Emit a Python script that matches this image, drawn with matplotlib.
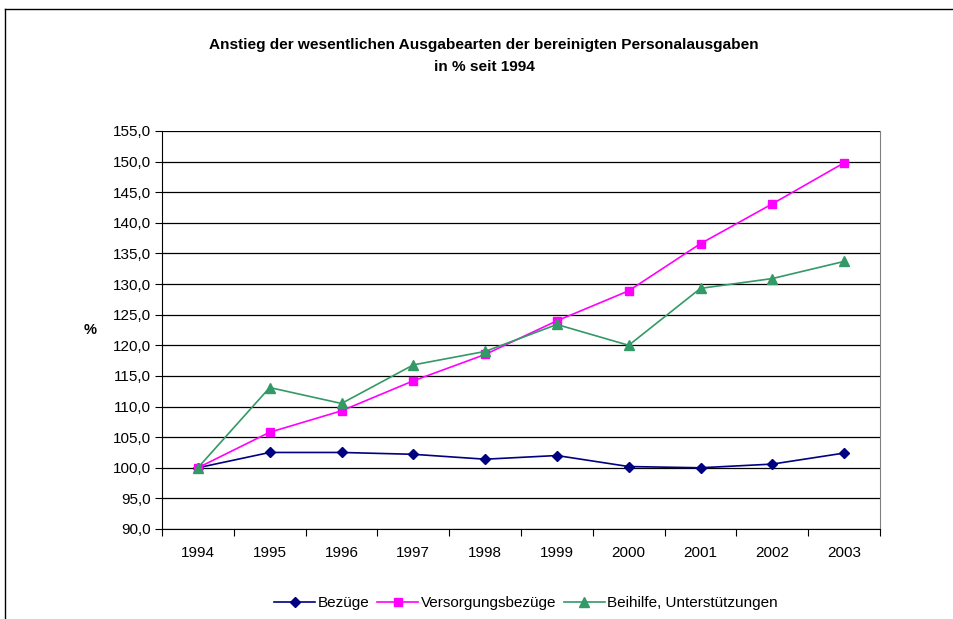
import matplotlib
matplotlib.use("Agg")
import matplotlib.pyplot as plt
from matplotlib.lines import Line2D

plt.rcParams['font.family'] = ['Liberation Sans', 'DejaVu Sans']

years = ['1994', '1995', '1996', '1997', '1998', '1999', '2000', '2001', '2002', '2003']
bezuege = [100.0, 102.5, 102.5, 102.2, 101.4, 102.0, 100.2, 100.0, 100.6, 102.4]
versorgung = [100.0, 105.8, 109.3, 114.2, 118.5, 124.0, 128.9, 136.6, 143.1, 149.8]
beihilfe = [100.0, 113.1, 110.5, 116.8, 119.0, 123.4, 120.0, 129.3, 130.9, 133.7]
series_names = ['Bezüge', 'Versorgungsbezüge', 'Beihilfe, Unterstützungen']
yticks = [90, 95, 100, 105, 110, 115, 120, 125, 130, 135, 140, 145, 150, 155]

W, H = 954, 619
fig = plt.figure(figsize=(W / 100, H / 100), dpi=100)
ax = fig.add_axes([162 / W, 1 - 529 / H, (880 - 162) / W, (529 - 131) / H])

x = list(range(len(years)))
ax.plot(x, bezuege, color='#000080', marker='D', markersize=5, lw=1.2, label=series_names[0], zorder=3)
ax.plot(x, versorgung, color='#FF00FF', marker='s', markersize=6, lw=1.2, label=series_names[1], zorder=3)
ax.plot(x, beihilfe, color='#339966', marker='^', markersize=6.5, lw=1.2, label=series_names[2], zorder=3)

ax.set_xlim(-0.5, len(years) - 0.5)
ax.set_ylim(90, 155)
ax.set_yticks(yticks)
ax.set_yticklabels([f"{v:.1f}".replace('.', ',') for v in yticks], fontsize=11)
ax.set_xticks([i - 0.5 for i in range(len(years) + 1)], minor=False)
ax.set_xticklabels([])
ax.set_xticks(x, minor=True)
ax.set_xticklabels(years, minor=True, fontsize=11)
ax.tick_params(axis='x', which='minor', length=0, pad=12)
ax.tick_params(axis='x', which='major', length=5, direction='out', color='black')
ax.tick_params(axis='y', length=5, direction='out', pad=3)
ax.yaxis.grid(True, color='black', lw=0.9)
ax.set_axisbelow(True)
ax.spines['top'].set_visible(False)
ax.spines['right'].set_color('#808080')
ax.spines['left'].set_color('black')
ax.spines['bottom'].set_color('black')

ax.set_ylabel('%', fontsize=10.5, fontweight='bold', rotation=0, labelpad=16, va='center')

fig.text(484 / W, 1 - 45 / H, 'Anstieg der wesentlichen Ausgabearten der bereinigten Personalausgaben',
         ha='center', va='center', fontsize=11.1, fontweight='bold')
fig.text(484 / W, 1 - 67 / H, 'in % seit 1994', ha='center', va='center', fontsize=11.1, fontweight='bold')

fig.legend(loc='center', bbox_to_anchor=(526 / W, 1 - 603 / H), ncol=3, frameon=False,
           fontsize=11, handlelength=2.7, columnspacing=0.5, handletextpad=0.15)

# outer chart border (top, left)
fig.add_artist(Line2D([5 / W, 952 / W], [1 - 9 / H, 1 - 9 / H], color='black', lw=1.0, transform=fig.transFigure))
fig.add_artist(Line2D([5 / W, 5 / W], [0, 1 - 9 / H], color='black', lw=1.0, transform=fig.transFigure))

fig.savefig('out.png', dpi=100)
